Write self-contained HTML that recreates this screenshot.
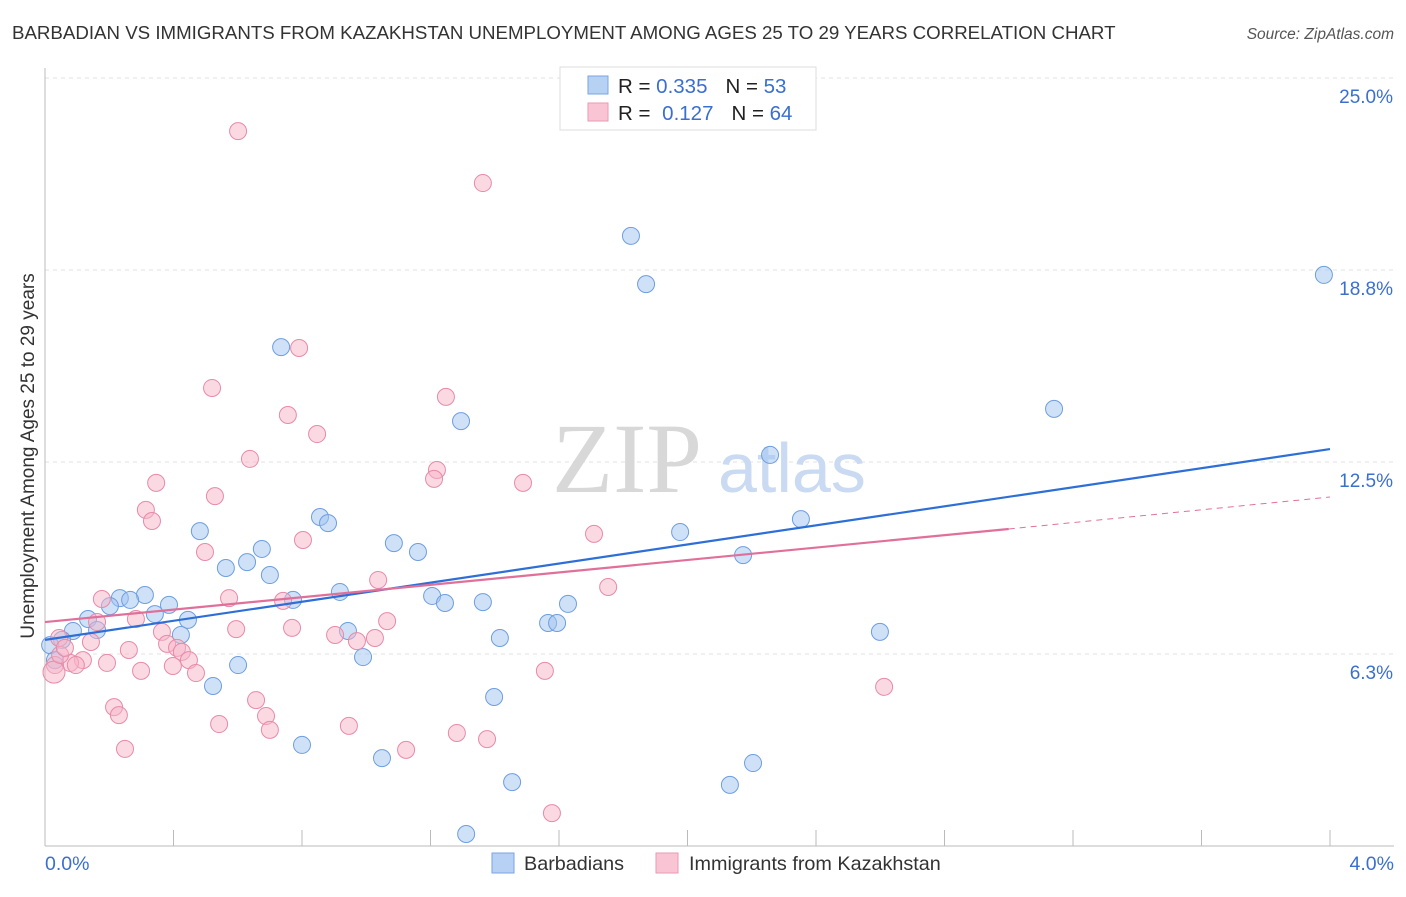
<!DOCTYPE html>
<html><head><meta charset="utf-8">
<style>
body{margin:0;background:#fff;font-family:"Liberation Sans",sans-serif;}
svg text{font-family:"Liberation Sans",sans-serif;}
</style></head>
<body>
<svg id="chart" width="1406" height="892" xmlns="http://www.w3.org/2000/svg">
<text x="12" y="39" font-size="18.7" fill="#333">BARBADIAN VS IMMIGRANTS FROM KAZAKHSTAN UNEMPLOYMENT AMONG AGES 25 TO 29 YEARS CORRELATION CHART</text>
<text x="1394" y="39" font-size="15.5" fill="#555" font-style="italic" text-anchor="end">Source: ZipAtlas.com</text>
<g id="grid"></g>
<text x="552" y="492" font-size="100" fill="#d8d8d8" style="font-family:'Liberation Serif',serif">ZIP</text>
<text x="718" y="492" font-size="70" fill="#c9daf2">atlas</text>
<g id="axes"></g>
<g id="pts"></g>
<g id="trends"></g>
<text transform="translate(34,456) rotate(-90)" font-size="19" fill="#333" text-anchor="middle">Unemployment Among Ages 25 to 29 years</text>
<text x="45" y="870" font-size="19.5" fill="#3a6fd0">0.0%</text>
<text x="1394" y="870" font-size="19.5" fill="#3a6fd0" text-anchor="end">4.0%</text>
<g>
<rect x="560" y="67" width="256" height="63" fill="#fff" stroke="#ddd"/>
<rect x="588" y="76" width="20" height="18" fill="#b7d1f4" stroke="#7aa5e2"/>
<rect x="588" y="103" width="20" height="18" fill="#f9c5d5" stroke="#e99ab3"/>
<text x="618" y="93" font-size="20.5" fill="#222">R = <tspan fill="#3a6fd0">0.335</tspan><tspan dx="18">N = </tspan><tspan fill="#3a6fd0">53</tspan></text>
<text x="618" y="120" font-size="20.5" fill="#222">R = <tspan fill="#3a6fd0" dx="6">0.127</tspan><tspan dx="18">N = </tspan><tspan fill="#3a6fd0">64</tspan></text>
</g>
<g>
<rect x="492" y="853" width="22" height="20" fill="#b7d1f4" stroke="#7aa5e2"/>
<text x="524" y="870" font-size="19.8" fill="#333">Barbadians</text>
<rect x="656" y="853" width="22" height="20" fill="#f9c5d5" stroke="#e99ab3"/>
<text x="689" y="870" font-size="19.8" fill="#333">Immigrants from Kazakhstan</text>
</g>
</svg>
<script>
const yTicks=[25.0,18.8,12.5,6.3];
const yTickVals=[25,18.75,12.5,6.25];
const blueX=[1.824,1.871,3.981,0.735,3.141,1.295,2.257,0.856,0.881,0.482,1.977,2.353,1.086,1.161,0.675,2.173,0.629,0.563,0.700,0.918,0.311,0.233,0.265,1.205,0.772,0.386,0.202,0.342,1.245,1.363,1.628,0.134,0.445,1.566,1.594,0.162,0.087,0.423,0.943,1.416,2.599,0.053,0.016,0.990,0.601,0.031,0.523,1.398,0.800,1.049,1.454,2.204,2.132,1.311];
const blueY=[19.86,18.29,18.59,16.24,14.23,13.83,12.73,10.71,10.51,10.25,10.22,10.64,9.86,9.57,9.67,9.47,9.24,9.05,8.82,8.27,8.17,8.07,8.01,8.14,8.01,7.85,7.81,7.55,7.91,7.94,7.88,7.39,7.36,7.26,7.26,7.03,7.00,6.87,7.00,6.77,6.97,6.71,6.54,6.15,5.89,6.05,5.21,4.85,3.29,2.86,2.08,2.70,1.99,0.39];
const pinkX=[0.601,1.363,0.791,0.520,1.248,0.756,0.847,0.638,1.220,1.211,1.488,0.346,0.529,0.314,0.333,0.803,1.709,0.498,1.037,1.753,0.177,0.573,0.741,0.283,0.162,1.065,0.595,0.769,0.364,0.903,1.027,0.044,0.143,0.380,0.971,0.411,0.426,0.261,0.448,0.118,0.193,0.078,0.096,0.398,0.031,0.299,0.470,1.556,2.612,0.657,0.215,0.230,0.688,0.542,0.700,0.946,1.282,1.376,0.249,1.124,1.578,0.028,0.047,0.062];
const pinkY=[23.27,21.58,16.21,14.91,14.62,14.03,13.41,12.60,12.24,11.95,11.82,11.82,11.39,10.94,10.58,9.96,10.16,9.57,8.66,8.43,8.04,8.07,7.98,7.39,7.29,7.32,7.06,7.10,6.97,6.87,6.77,6.77,6.64,6.58,6.67,6.45,6.32,6.38,6.05,6.05,5.96,5.96,5.89,5.86,5.89,5.70,5.63,5.70,5.18,4.75,4.52,4.26,4.23,3.97,3.78,3.91,3.68,3.48,3.16,3.13,1.07,5.66,6.22,6.45];
const blueTrend=[6.71,12.92];
const pinkTrend=[7.29,10.32,11.36];
const pinkTrendX=[0,3.0,4.0];
const X=v=>45+v*321.25, Y=v=>846-v*30.72;
const NS="http://www.w3.org/2000/svg";
function mk(p,t,a){const e=document.createElementNS(NS,t);for(const k in a)e.setAttribute(k,a[k]);p.appendChild(e);return e;}
const grid=document.getElementById('grid'),axes=document.getElementById('axes');
yTickVals.forEach((v,i)=>{
 const l=mk(grid,'line',{x1:45,x2:1394,y1:Y(v),y2:Y(v),stroke:'#e2e2e2','stroke-dasharray':'4,4'});
 
 
 const t=mk(axes,'text',{x:1393,y:Y(v)+25,'font-size':19,fill:'#3a6fd0','text-anchor':'end'});
 t.textContent=yTicks[i].toFixed(1)+'%';
 
 
});
const la=mk(axes,'line',{x1:45,x2:45,y1:68,y2:846,stroke:'#bbb'});


const lb=mk(axes,'line',{x1:45,x2:1394,y1:846,y2:846,stroke:'#bbb'});


for(let i=0;i<=10;i++){const v=i*0.4;const t=mk(axes,'line',{x1:X(v),x2:X(v),y1:830,y2:846,stroke:'#bbb'});
 
 }
const pts=document.getElementById('pts');
blueX.forEach((x,i)=>{const c=mk(pts,'circle',{cx:X(x),cy:Y(blueY[i]),r:8.5,fill:'rgba(160,195,240,0.5)',stroke:'#6d9ee0','stroke-width':1});
 
 });
pinkX.forEach((x,i)=>{const c=mk(pts,'circle',{cx:X(x),cy:Y(pinkY[i]),r:i==61?11:8.5,fill:'rgba(245,180,200,0.5)',stroke:'#e88aa8','stroke-width':1});
 
 });
const tr=document.getElementById('trends');
const b=mk(tr,'line',{x1:X(0),y1:Y(blueTrend[0]),x2:X(4),y2:Y(blueTrend[1]),stroke:'#2d6fd6','stroke-width':2.2});


const p=mk(tr,'line',{x1:X(pinkTrendX[0]),y1:Y(pinkTrend[0]),x2:X(pinkTrendX[1]),y2:Y(pinkTrend[1]),stroke:'#e0709a','stroke-width':2.2});


const pd=mk(tr,'line',{x1:X(pinkTrendX[1]),y1:Y(pinkTrend[1]),x2:X(pinkTrendX[2]),y2:Y(pinkTrend[2]),stroke:'#e0709a','stroke-width':1,'stroke-dasharray':'6,5'});


</script>
</body></html>
